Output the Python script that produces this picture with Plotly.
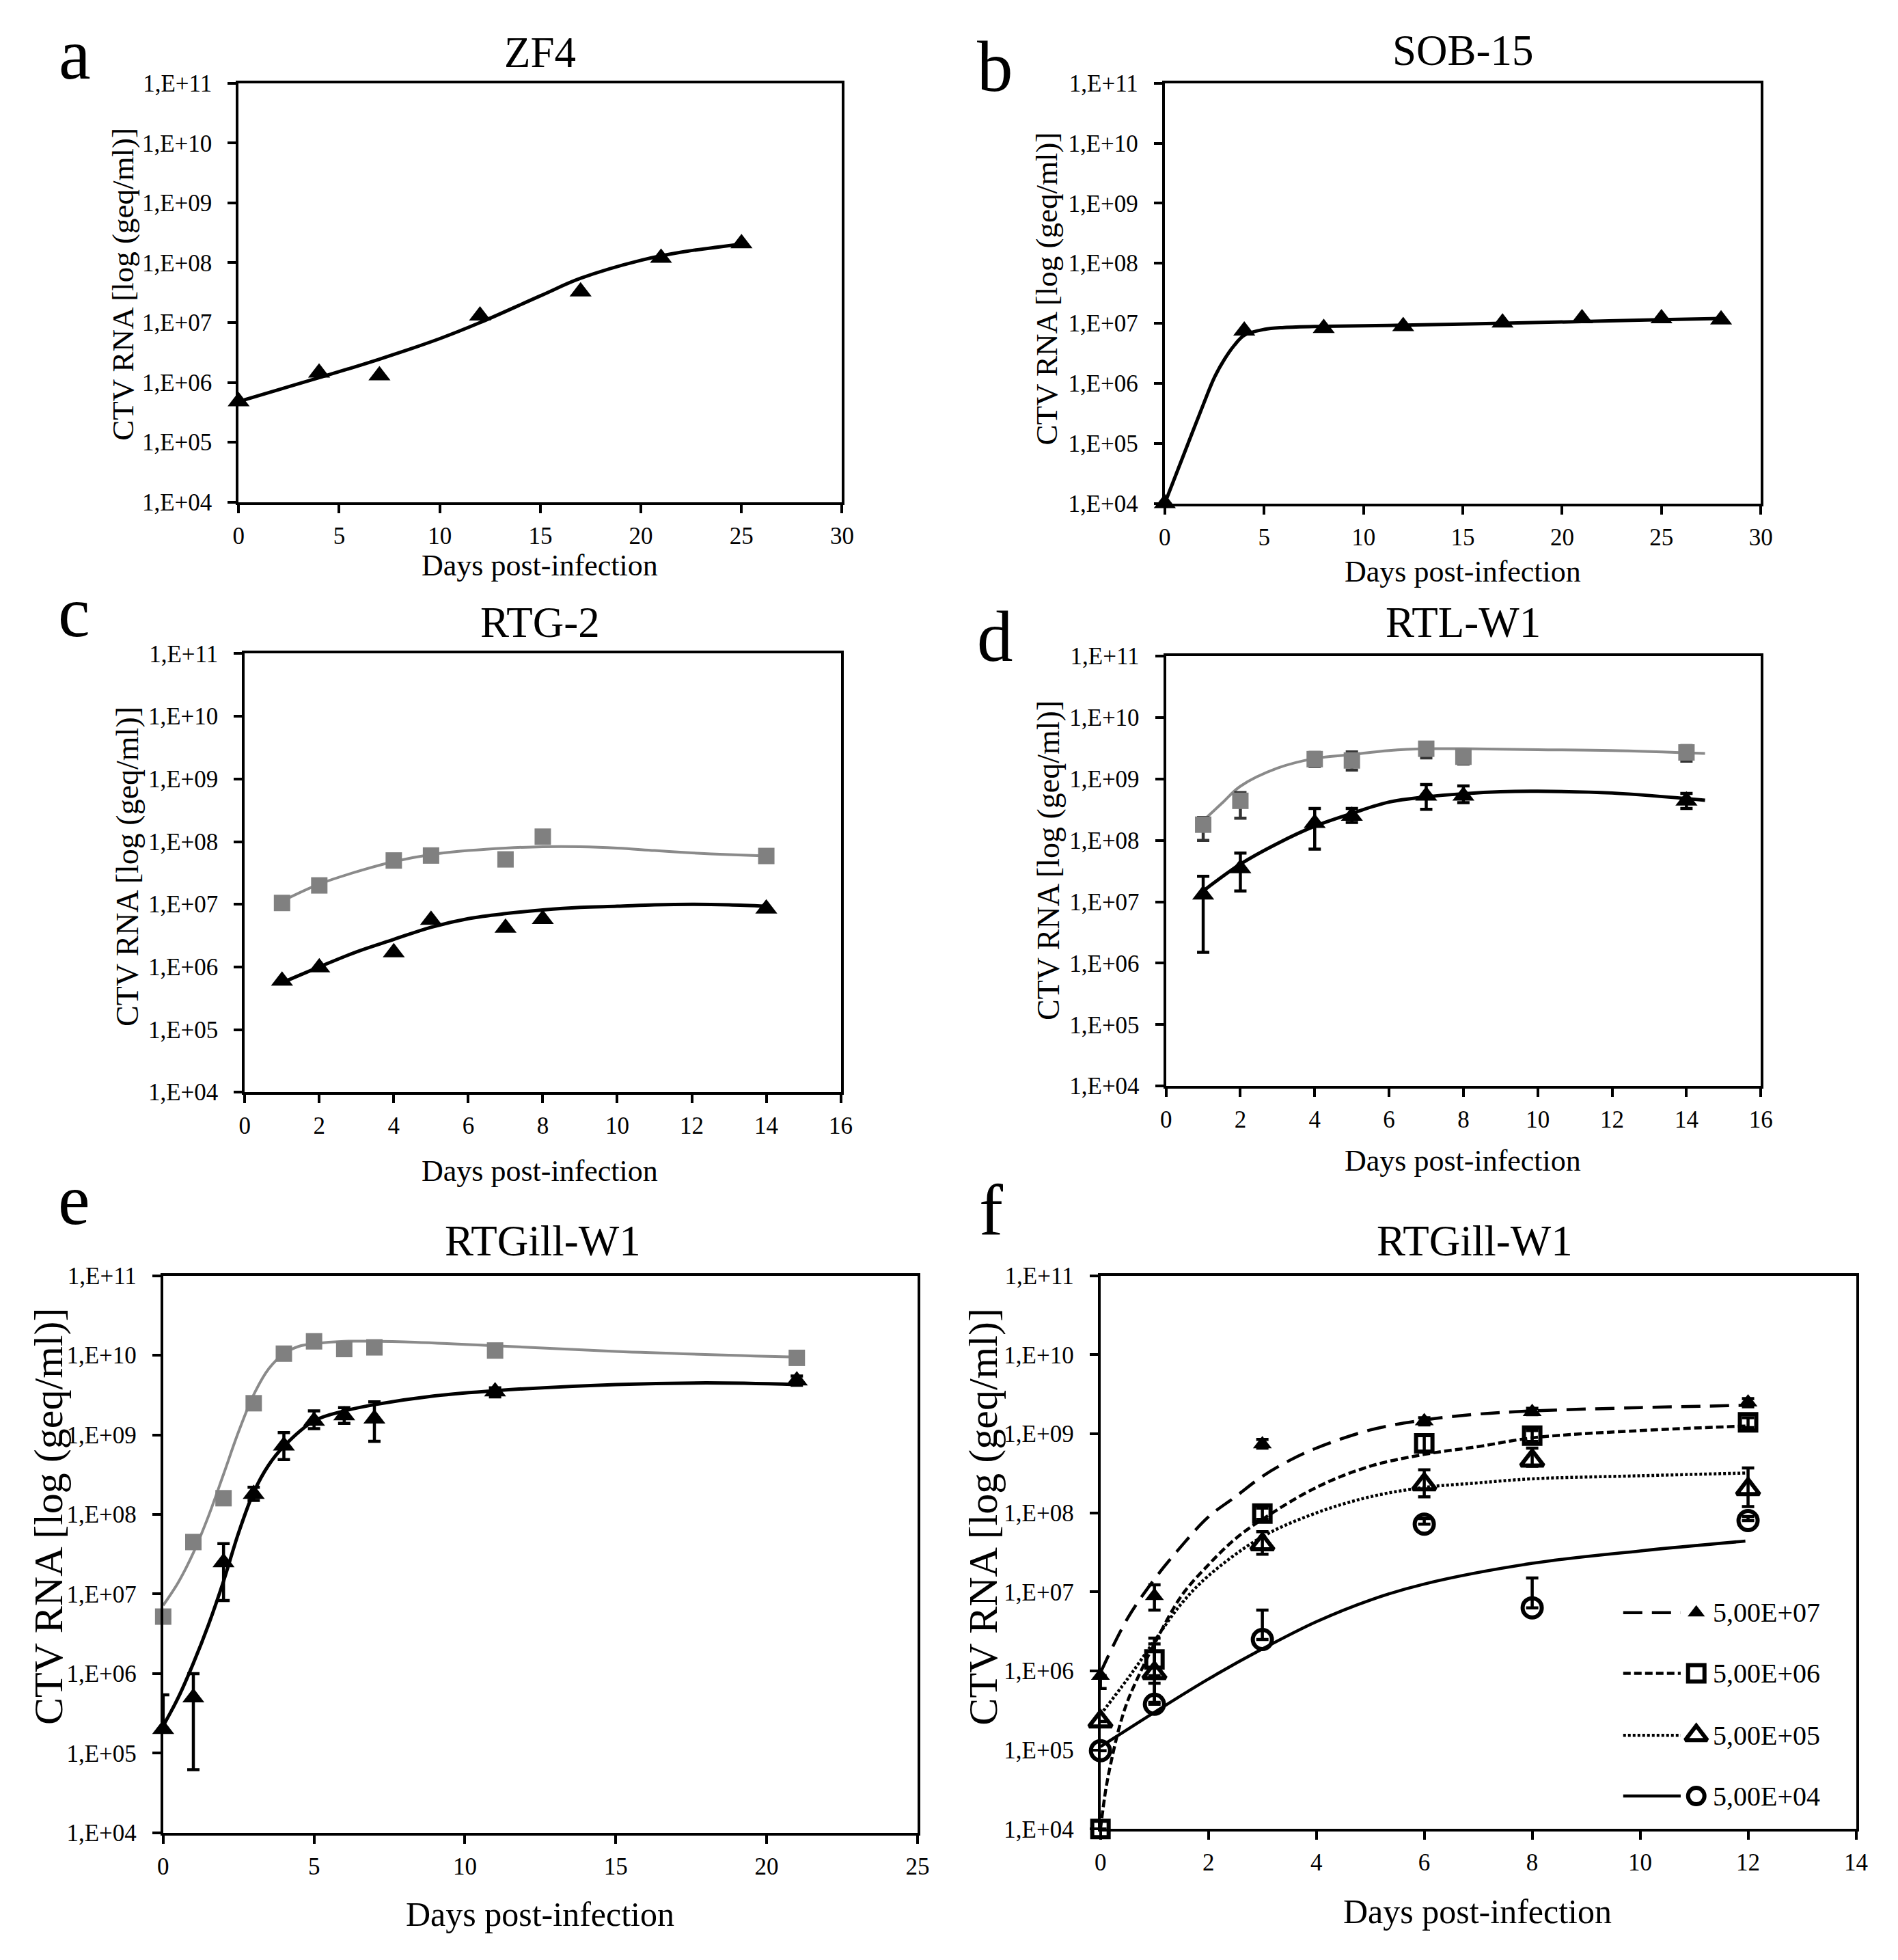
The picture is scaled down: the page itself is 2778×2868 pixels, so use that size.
import plotly.graph_objects as go

W, H = 2778, 2868

# ---------------- data ----------------
y_tickvals = [1e4, 1e5, 1e6, 1e7, 1e8, 1e9, 1e10, 1e11]
y_ticktext = ["1,E+04", "1,E+05", "1,E+06", "1,E+07", "1,E+08", "1,E+09", "1,E+10", "1,E+11"]

# a  ZF4
days_a = [0, 4, 7, 12, 17, 21, 25]
vals_a = [4.8e5, 1.45e6, 1.3e6, 1.3e7, 3.3e7, 1.2e8, 2.1e8]
fit_a_x = [0, 2, 4, 7, 10, 12, 15, 17, 20, 22, 25]
fit_a_y = [4.8e5, 7.6e5, 1.2e6, 2.45e6, 5.4e6, 1.0e7, 2.8e7, 5.5e7, 1.1e8, 1.5e8, 2.05e8]

# b  SOB-15
days_b = [0, 4, 8, 12, 17, 21, 25, 28]
vals_b = [1e4, 7.5e6, 8.3e6, 8.9e6, 1.02e7, 1.2e7, 1.2e7, 1.15e7]
fit_b_x = [0, 1, 2, 2.5, 3, 3.5, 4, 5, 6, 8, 12, 17, 21, 25, 28]
fit_b_y = [1e4, 7.1e4, 5e5, 1.26e6, 2.5e6, 4.3e6, 6.3e6, 7.9e6, 8.5e6, 8.9e6, 9.3e6, 1e7, 1.07e7, 1.15e7, 1.2e7]

# c  RTG-2
days_c = [1, 2, 4, 5, 7, 8, 14]
gray_c = [1.05e7, 2.0e7, 5.0e7, 6.0e7, 5.2e7, 1.2e8, 5.9e7]
black_c = [6.0e5, 9.8e5, 1.7e6, 5.6e6, 4.2e6, 5.8e6, 8.5e6]
fit_c_x = [1, 2, 3, 4, 5, 6, 7, 8, 9, 10, 11, 12, 13, 14]
fit_c_gray = [1.12e7, 2.1e7, 3.3e7, 4.8e7, 6.2e7, 7.2e7, 7.9e7, 8.3e7, 8.3e7, 7.9e7, 7.2e7, 6.6e7, 6.2e7, 5.9e7]
fit_c_black = [5.6e5, 1.0e6, 1.74e6, 2.75e6, 4.3e6, 5.9e6, 7.1e6, 8.1e6, 8.9e6, 9.3e6, 9.8e6, 1.0e7, 9.8e6, 9.3e6]

# d  RTL-W1
days_d = [1, 2, 4, 5, 7, 8, 14]
gray_d = [1.8e8, 4.4e8, 2.1e9, 2.0e9, 3.1e9, 2.3e9, 2.7e9]
gray_d_hi = [2.35e8, 6.0e8, 2.7e9, 2.75e9, 3.9e9, 2.9e9, 3.5e9]
gray_d_lo = [1.0e8, 2.3e8, 1.6e9, 1.4e9, 2.2e9, 1.75e9, 1.95e9]
black_d = [1.3e7, 3.5e7, 1.9e8, 2.5e8, 5.3e8, 5.3e8, 4.4e8]
black_d_hi = [2.6e7, 6.2e7, 3.3e8, 3.3e8, 8.1e8, 7.7e8, 5.8e8]
black_d_lo = [1.5e6, 1.5e7, 7.2e7, 1.95e8, 3.2e8, 4.1e8, 3.3e8]
fit_d_gray_x = [1, 1.5, 2, 3, 4, 5, 6, 7, 8, 10, 12, 14.5]
fit_d_gray = [2.1e8, 4.0e8, 7.6e8, 1.5e9, 2.15e9, 2.5e9, 2.9e9, 3.1e9, 3.1e9, 3.0e9, 2.9e9, 2.6e9]
fit_d_black_x = [1, 2, 3, 4, 5, 6, 7, 8, 9, 10, 12, 14.5]
fit_d_black = [1.5e7, 4.1e7, 8.9e7, 1.7e8, 2.75e8, 4.2e8, 5.1e8, 5.75e8, 6.2e8, 6.3e8, 5.9e8, 4.5e8]

# e  RTGill-W1
days_e = [0, 1, 2, 3, 4, 5, 6, 7, 11, 21]
gray_e = [5.2e6, 4.5e7, 1.6e8, 2.5e9, 1.05e10, 1.5e10, 1.2e10, 1.26e10, 1.15e10, 9.3e9]
black_e = [2.0e5, 5.0e5, 2.5e7, 1.8e8, 7.3e8, 1.5e9, 1.75e9, 1.6e9, 3.5e9, 4.8e9]
black_e_hi = [5.4e5, 1.0e6, 4.3e7, 2.2e8, 1.07e9, 2.0e9, 2.2e9, 2.6e9, 3.9e9, 5.5e9]
black_e_lo = [2.0e5, 6.2e4, 8.3e6, 1.5e8, 4.9e8, 1.2e9, 1.4e9, 8.3e8, 3.0e9, 4.2e9]
fit_e_gray_x = [0, 0.5, 1, 1.5, 2, 2.5, 3, 3.5, 4, 4.5, 5, 6, 7, 8, 11, 15, 21]
fit_e_gray = [7.2e6, 1.4e7, 3.3e7, 9.5e7, 3.2e8, 1.1e9, 3.2e9, 6.8e9, 1.05e10, 1.3e10, 1.4e10,
              1.5e10, 1.5e10, 1.48e10, 1.32e10, 1.12e10, 9.5e9]
fit_e_black_x = [0, 0.5, 1, 1.5, 2, 2.5, 3, 3.5, 4, 5, 6, 7, 9, 11, 15, 18, 21]
fit_e_black = [2.2e5, 5.0e5, 1.35e6, 4.1e6, 1.45e7, 5.9e7, 1.9e8, 4.2e8, 7.2e8, 1.5e9, 2.0e9,
               2.4e9, 3.1e9, 3.6e9, 4.3e9, 4.5e9, 4.3e9]

# f  RTGill-W1, four inocula
days_f = [0, 1, 3, 6, 8, 12]
f_names = ["5,00E+07", "5,00E+06", "5,00E+05", "5,00E+04"]
f7 = [8.7e5, 8.9e6, 7.4e8, 1.45e9, 1.9e9, 2.5e9]
f7_hi = [8.7e5, 1.23e7, 8.5e8, 1.6e9, 2.1e9, 2.8e9]
f7_lo = [6.0e5, 5.9e6, 6.6e8, 1.3e9, 1.75e9, 2.2e9]
f6 = [1e4, 1.4e6, 9.8e7, 7.6e8, 9.5e8, 1.4e9]
f6_hi = [1e4, 2.6e6, 1.15e8, 9.8e8, 1.1e9, 1.6e9]
f6_lo = [1e4, 8.7e5, 8.3e7, 6.0e8, 8.0e8, 1.2e9]
f5 = [2.3e5, 9.4e5, 4.0e7, 2.3e8, 4.6e8, 2.0e8]
f5_hi = [2.3e5, 2.2e6, 5.8e7, 3.5e8, 6.6e8, 3.7e8]
f5_lo = [2.3e5, 4.0e5, 3.0e7, 1.6e8, 3.9e8, 1.2e8]
f4 = [9.8e4, 3.8e5, 2.5e6, 7.2e7, 6.3e6, 8.0e7]
f4_hi = [9.8e4, 7.0e5, 5.9e6, 8.5e7, 1.5e7, 9.0e7]
f4_lo = [9.8e4, 3.8e5, 2.5e6, 7.2e7, 6.3e6, 8.0e7]
fit_f7_x = [0, 0.5, 1, 1.5, 2, 2.5, 3, 3.5, 4, 5, 6, 7, 8, 10, 12]
fit_f7 = [9.5e5, 4.6e6, 1.45e7, 3.8e7, 8.9e7, 1.6e8, 2.9e8, 4.6e8, 6.6e8, 1.12e9, 1.5e9, 1.78e9, 1.95e9, 2.15e9, 2.3e9]
fit_f6_x = [0, 0.1, 0.2, 0.35, 0.5, 0.75, 1, 1.5, 2, 2.5, 3, 4, 5, 6, 7, 8, 10, 12]
fit_f6 = [1e4, 3.2e4, 7.2e4, 1.95e5, 4.1e5, 1.0e6, 2.2e6, 8.9e6, 2.2e7, 4.7e7, 8.3e7, 2.1e8, 3.9e8,
          5.5e8, 6.9e8, 8.9e8, 1.1e9, 1.26e9]
fit_f5_x = [0, 0.5, 1, 1.5, 2, 3, 4, 5, 6, 7, 8, 10, 12]
fit_f5 = [2.8e5, 7.9e5, 2.4e6, 7.1e6, 1.6e7, 5.0e7, 1.0e8, 1.6e8, 2.1e8, 2.4e8, 2.7e8, 2.95e8, 3.2e8]
fit_f4_x = [0, 1, 2, 3, 4, 5, 6, 8, 10, 11.95]
fit_f4 = [1.1e5, 3.0e5, 7.9e5, 1.9e6, 4.2e6, 7.9e6, 1.26e7, 2.3e7, 3.3e7, 4.4e7]

# ---------------- figure ----------------
SERIF = "Liberation Serif"
fig = go.Figure()

def ax_ids(n):
    return ("x", "y") if n == 1 else (f"x{n}", f"y{n}")

def add_line(n, x, y, color, width, dash="solid"):
    xa, ya = ax_ids(n)
    fig.add_trace(go.Scatter(x=x, y=y, mode="lines", xaxis=xa, yaxis=ya,
                             line=dict(color=color, width=width, dash=dash, shape="spline", smoothing=1.0),
                             showlegend=False, hoverinfo="skip", cliponaxis=False))

def add_pts(n, x, y, symbol, size, color, hi=None, lo=None, lw=0, ecolor="black"):
    xa, ya = ax_ids(n)
    err = None
    if hi is not None:
        err = dict(type="data", symmetric=False,
                   array=[h - v for h, v in zip(hi, y)],
                   arrayminus=[v - l for v, l in zip(y, lo)],
                   color=ecolor, thickness=4.5, width=9)
    fig.add_trace(go.Scatter(x=x, y=y, mode="markers", xaxis=xa, yaxis=ya,
                             marker=dict(symbol=symbol, size=size, color=color,
                                         line=dict(width=lw, color=color)),
                             error_y=err, showlegend=False, hoverinfo="skip", cliponaxis=False))

GRAY_M = "#808080"
GRAY_L = "#8a8a8a"
TRI = 28
SQ = 24

# a
add_line(1, fit_a_x, fit_a_y, "black", 5)
add_pts(1, days_a, vals_a, "triangle-up", TRI, "black")
# b
add_line(2, fit_b_x, fit_b_y, "black", 5)
add_pts(2, days_b, vals_b, "triangle-up", TRI, "black")
# c
add_line(3, fit_c_x, fit_c_gray, GRAY_L, 4)
add_line(3, fit_c_x, fit_c_black, "black", 5)
add_pts(3, days_c, gray_c, "square", SQ, GRAY_M)
add_pts(3, days_c, black_c, "triangle-up", TRI, "black")
# d
add_line(4, fit_d_gray_x, fit_d_gray, GRAY_L, 4)
add_line(4, fit_d_black_x, fit_d_black, "black", 5)
add_pts(4, days_d, gray_d, "square", SQ, GRAY_M, gray_d_hi, gray_d_lo, ecolor="#333333")
add_pts(4, days_d, black_d, "triangle-up", TRI, "black", black_d_hi, black_d_lo)
# e
add_line(5, fit_e_gray_x, fit_e_gray, GRAY_L, 4)
add_line(5, fit_e_black_x, fit_e_black, "black", 5)
add_pts(5, days_e, gray_e, "square", SQ, GRAY_M)
add_pts(5, days_e, black_e, "triangle-up", TRI, "black", black_e_hi, black_e_lo)
# f
DASH7, DASH6, DASH5 = "28px,14px", "11px,5px", "4px,3px"
add_line(6, fit_f7_x, fit_f7, "black", 4.5, DASH7)
add_line(6, fit_f6_x, fit_f6, "black", 4.5, DASH6)
add_line(6, fit_f5_x, fit_f5, "black", 4.5, DASH5)
add_line(6, fit_f4_x, fit_f4, "black", 4.5)
add_pts(6, days_f, f7, "triangle-up", 24, "black", f7_hi, f7_lo)
add_pts(6, days_f, f6, "square-open", 24, "black", f6_hi, f6_lo, lw=6)
add_pts(6, days_f, f5, "triangle-up-open", 29, "black", f5_hi, f5_lo, lw=6)
add_pts(6, days_f, f4, "circle-open", 28, "black", f4_hi, f4_lo, lw=6)

# ---------------- axes ----------------
domains = {
    1: ((343.6, 1235.5), (104.2, 725.6), (0, 30), 5),
    2: ((1712.5, 2593.4), (104.2, 727.4), (0, 30), 5),
    3: ((352.7, 1233.6), (950.4, 1601.0), (0, 16), 2),
    4: ((1714.3, 2593.4), (954.0, 1591.8), (0, 16), 2),
    5: ((232.1, 1347.0), (1873.3, 2699.4), (0, 25), 5),
    6: ((1617.4, 2734.1), (1873.3, 2694.0), (0, 14), 2),
}
tickfont = dict(family=SERIF, size=35, color="black")
for n, ((x0, x1), (y0, y1), xr, dt) in domains.items():
    xk = "xaxis" if n == 1 else f"xaxis{n}"
    yk = "yaxis" if n == 1 else f"yaxis{n}"
    ya_id = "y" if n == 1 else f"y{n}"
    xa_id = "x" if n == 1 else f"x{n}"
    fig.layout[xk] = dict(domain=[x0 / W, x1 / W], anchor=ya_id, range=list(xr), dtick=dt, tick0=0,
                          showgrid=False, zeroline=False, showline=True, mirror=True,
                          linecolor="black", linewidth=4, ticks="outside", ticklen=12, tickwidth=4,
                          tickcolor="black", tickfont=tickfont, ticklabelstandoff=3)
    fig.layout[yk] = dict(domain=[1 - y1 / H, 1 - y0 / H], anchor=xa_id, type="log", range=[4, 11],
                          tickvals=y_tickvals, ticktext=y_ticktext,
                          showgrid=False, zeroline=False, showline=True, mirror=True,
                          linecolor="black", linewidth=4, ticks="outside", ticklen=12, tickwidth=4,
                          tickcolor="black", tickfont=tickfont, ticklabelstandoff=16)

# overlay axis for the legend of panel f
fig.layout["xaxis7"] = dict(domain=[0, 1], range=[0, 1], visible=False, anchor="y7")
fig.layout["yaxis7"] = dict(domain=[0, 1], range=[0, 1], visible=False, anchor="x7")

leg_y = [1 - 2373 / H, 1 - 2463 / H, 1 - 2555 / H, 1 - 2645 / H]
leg_dash = [DASH7, DASH6, DASH5, "solid"]
leg_sym = ["triangle-up", "square-open", "triangle-up-open", "circle-open"]
leg_size = [22, 24, 28, 24]
leg_lw = [0, 6, 6, 6]
for yy, dsh, sym, sz, lw, name in zip(leg_y, leg_dash, leg_sym, leg_size, leg_lw, f_names):
    fig.add_shape(type="line", xref="paper", yref="paper", x0=2390 / W, x1=2475 / W, y0=yy, y1=yy,
                  line=dict(color="black", width=4.5, dash=dsh))
    fig.add_trace(go.Scatter(x=[2498 / W], y=[yy], mode="markers", xaxis="x7", yaxis="y7",
                             marker=dict(symbol=sym, size=sz, color="black", line=dict(width=lw, color="black")),
                             showlegend=False, hoverinfo="skip", cliponaxis=False))
    fig.add_annotation(x=2521 / W, y=yy, xref="paper", yref="paper", text=name, showarrow=False,
                       xanchor="left", yanchor="middle", font=dict(family=SERIF, size=40, color="black"))

# ---------------- texts ----------------
def txt(x, y, s, size, family=SERIF, angle=0, yanchor="middle"):
    fig.add_annotation(x=x / W, y=1 - y / H, xref="paper", yref="paper", text=s, showarrow=False,
                       xanchor="center", yanchor=yanchor, textangle=angle,
                       font=dict(family=family, size=size, color="black"))

titles = [("ZF4", 789, 59), ("SOB-15", 2153, 56), ("RTG-2", 789, 904),
          ("RTL-W1", 2153, 904), ("RTGill-W1", 793, 1822), ("RTGill-W1", 2171, 1822)]
for s, x, y in titles:
    txt(x, y, s, 63)

xlab = [(789, 820, 44), (2153, 829, 44), (789, 1718, 44), (2153, 1703, 44), (789, 2820, 50), (2175, 2816, 50)]
for x, y, sz in xlab:
    txt(x, y, "Days post-infection", sz)

ylab = [(172, 402, 45), (1538, 409, 45), (180, 1266, 46), (1541, 1257, 46), (62, 2230, 60), (1444, 2230, 60)]
for x, y, sz in ylab:
    txt(x, y, "CTV RNA [log (geq/ml)]", sz, angle=-90)

# panel letters, placed by the top of their text box
letters = [("a", 101, 0), ("b", 1462, 18), ("c", 100, 827), ("d", 1462, 864), ("e", 100, 1699), ("f", 1456, 1714)]
for s, x, y in letters:
    txt(x, y, s, 105, yanchor="top")

fig.update_layout(width=W, height=H, margin=dict(l=0, r=0, t=0, b=0),
                  paper_bgcolor="white", plot_bgcolor="rgba(0,0,0,0)", showlegend=False)

fig.write_html("out.html", post_script="document.body.style.margin='0';",
               config={"displayModeBar": False})
